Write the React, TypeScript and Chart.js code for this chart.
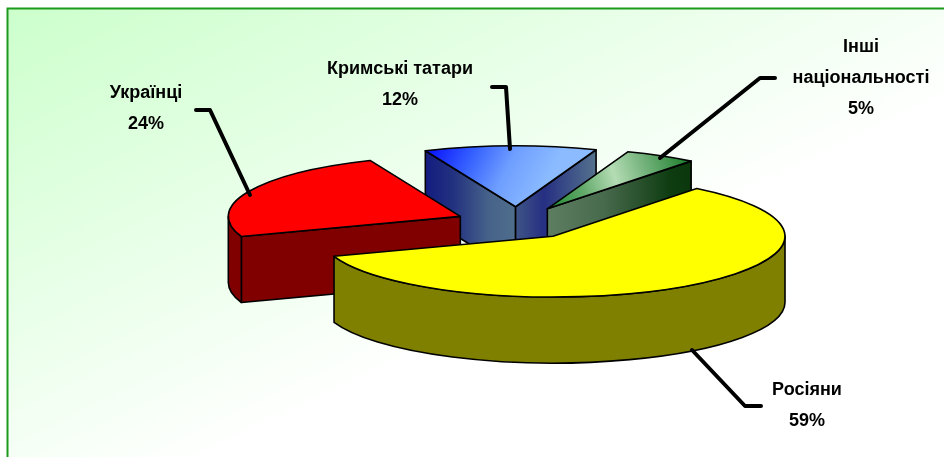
import { useEffect, useRef } from "react";
import { Chart, ArcElement, PieController } from "chart.js";

Chart.register(ArcElement, PieController);

const categories = ["Росіяни", "Українці", "Кримські татари", "Інші національності"];
const shares = [59, 24, 12, 5];
const topColors = ["#ffff00", "#ff0000", "#5f8fff", "#6fb070"];
const sideColors = ["#808000", "#800000", "#3d4e85", "#2f5a30"];

const W = 944, H = 457;
const K = 0.262, EXPLODE = 62, DEPTH = 66, RADIUS = 232;
const DRAW_ORDER = [2, 3, 1, 0];

type Stop = [number, string];
type Grad = { p: [number, number, number, number]; stops: Stop[] };

const topGrads: Record<number, Grad> = {
  2: { p: [435, 140, 560, 205], stops: [[0, "#0a14ff"], [0.28, "#3560ff"], [0.55, "#6f9fff"], [0.85, "#8cbcff"], [1, "#8cbcff"]] },
  3: { p: [548, 210, 694, 164], stops: [[0, "#1f8a30"], [0.25, "#60a868"], [0.48, "#b4dcb4"], [0.7, "#70b078"], [1, "#157a25"]] },
};
const faceGrads: Record<string, Stop[]> = {
  "2s": [[0, "#131c80"], [0.3, "#22307f"], [0.7, "#46628a"], [1, "#4f6f8c"]],
  "2e": [[0, "#3f5586"], [0.35, "#262f82"], [1, "#54728d"]],
  "3e": [[0, "#5e7e62"], [0.4, "#47694c"], [0.85, "#0f3d12"], [1, "#0a380c"]],
};

const labels = [
  { lines: ["Українці", "24%"], x: 146, y: 93 },
  { lines: ["Кримські татари", "12%"], x: 400, y: 69 },
  { lines: ["Інші", "національності", "5%"], x: 861, y: 47 },
  { lines: ["Росіяни", "59%"], x: 807, y: 390 },
];
const leaders = [
  [[196, 110], [210, 110], [250, 195]],
  [[492, 87], [506, 87], [510, 149]],
  [[775, 78], [760, 78], [660, 158]],
  [[692, 350], [745, 406], [761, 406]],
];

const pie3d = {
  id: "pie3d",
  beforeDraw(chart: any) {
    const c = chart.ctx;
    c.save();
    c.clearRect(0, 0, W, H);
    const g = c.createLinearGradient(8, 9, 8 + 300, 9 + 620);
    g.addColorStop(0, "#ccffcc");
    g.addColorStop(0.72, "#ffffff");
    g.addColorStop(1, "#ffffff");
    c.fillStyle = g;
    c.fillRect(8, 9, W, H);
    c.strokeStyle = "#1c9a1c";
    c.lineWidth = 2;
    c.beginPath();
    c.moveTo(7.5, H + 2);
    c.lineTo(7.5, 8.5);
    c.lineTo(W + 2, 8.5);
    c.stroke();
    c.restore();
  },
  beforeDatasetDraw(chart: any) {
    const c = chart.ctx;
    const arcs = chart.getDatasetMeta(0).data;
    for (const i of DRAW_ORDER) {
      const arc = arcs[i];
      const { x, y, startAngle: a0, endAngle: a1, outerRadius: R } = arc;
      const mid = (a0 + a1) / 2;
      const ox = x + Math.cos(mid) * EXPLODE;
      const oy = y + Math.sin(mid) * EXPLODE * K;
      const rimX = (a: number) => ox + R * Math.cos(a);
      const rimY = (a: number) => oy + R * K * Math.sin(a);
      c.save();
      c.lineWidth = 1.6;
      c.lineJoin = "round";
      c.strokeStyle = "#000";
      const face = (a: number, key: string) => {
        const ex = rimX(a), ey = rimY(a);
        const stops = faceGrads[i + key];
        if (stops) {
          const g = c.createLinearGradient(Math.min(ox, ex), 0, Math.max(ox, ex), 0);
          stops.forEach(([t, col]) => g.addColorStop(t, col));
          c.fillStyle = g;
        } else c.fillStyle = sideColors[i];
        c.beginPath();
        c.moveTo(ox, oy);
        c.lineTo(ex, ey);
        c.lineTo(ex, ey + DEPTH);
        c.lineTo(ox, oy + DEPTH);
        c.closePath();
        c.fill();
        c.stroke();
      };
      if (Math.cos(a0) < 0) face(a0, "s");
      if (Math.cos(a1) > 0) face(a1, "e");
      const r0 = Math.max(a0, 0), r1 = Math.min(a1, Math.PI);
      if (r1 > r0) {
        c.fillStyle = sideColors[i];
        c.beginPath();
        c.ellipse(ox, oy, R, R * K, 0, r0, r1);
        c.lineTo(rimX(r1), rimY(r1) + DEPTH);
        c.ellipse(ox, oy + DEPTH, R, R * K, 0, r1, r0, true);
        c.closePath();
        c.fill();
        c.stroke();
      }
      c.save();
      c.translate(ox, oy);
      c.scale(1, K);
      c.translate(-x, -y);
      arc.draw(c);
      c.restore();
      const wedge = () => {
        c.beginPath();
        c.moveTo(ox, oy);
        c.ellipse(ox, oy, R, R * K, 0, a0, a1);
        c.closePath();
      };
      const tg = topGrads[i];
      if (tg) {
        const g = c.createLinearGradient(...tg.p);
        tg.stops.forEach(([t, col]) => g.addColorStop(t, col));
        c.fillStyle = g;
        wedge();
        c.fill();
      }
      wedge();
      c.stroke();
      c.restore();
    }
    c.save();
    c.strokeStyle = "#000";
    c.lineWidth = 4;
    c.lineCap = "round";
    c.lineJoin = "round";
    for (const pts of leaders) {
      c.beginPath();
      pts.forEach(([px, py], n) => (n ? c.lineTo(px, py) : c.moveTo(px, py)));
      c.stroke();
    }
    c.fillStyle = "#000";
    c.font = 'bold 18px "Liberation Sans", Arial, sans-serif';
    c.textAlign = "center";
    c.textBaseline = "middle";
    for (const l of labels) l.lines.forEach((t, n) => c.fillText(t, l.x, l.y + n * 31));
    c.restore();
    return false;
  },
};

export default function App() {
  const ref = useRef<HTMLCanvasElement>(null);
  useEffect(() => {
    const chart = new Chart(ref.current!, {
      type: "pie",
      data: {
        labels: categories,
        datasets: [{ data: shares, backgroundColor: topColors, borderWidth: 0 }],
      },
      options: {
        animation: false,
        responsive: false,
        rotation: 38.3,
        radius: RADIUS,
        layout: { padding: { left: 90, bottom: 11 } },
        plugins: { legend: { display: false }, tooltip: { enabled: false } },
      },
      plugins: [pie3d],
    } as any);
    return () => chart.destroy();
  }, []);
  return <canvas ref={ref} width={W} height={H} style={{ position: "absolute", left: 0, top: 0, display: "block" }} />;
}
